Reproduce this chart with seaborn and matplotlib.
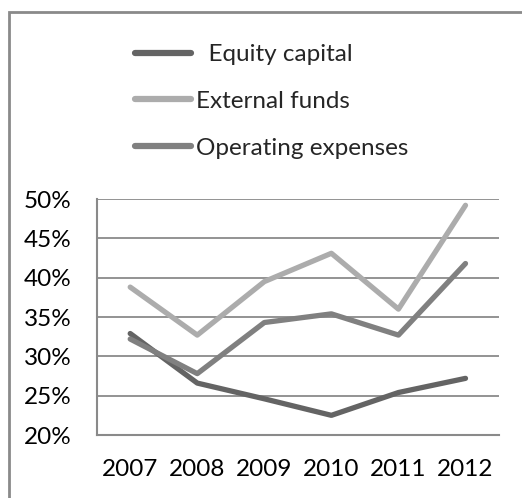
import matplotlib
matplotlib.use("Agg")
import matplotlib.pyplot as plt
import seaborn as sns
import pandas as pd
from matplotlib.patches import Rectangle
from matplotlib.ticker import FuncFormatter

years = ["2007", "2008", "2009", "2010", "2011", "2012"]
equity_capital = [32.9, 26.6, 24.6, 22.5, 25.4, 27.2]
external_funds = [38.8, 32.7, 39.5, 43.1, 36.0, 49.2]
operating_expenses = [32.2, 27.8, 34.3, 35.4, 32.7, 41.8]
series_names = ["  Equity capital", "External funds", "Operating expenses"]
colors = ["#646464", "#acacac", "#808080"]
y_ticks = [20, 25, 30, 35, 40, 45, 50]

rows = []
for name, vals in zip(series_names, [equity_capital, external_funds, operating_expenses]):
    for yr, v in zip(years, vals):
        rows.append({"year": yr, "value": v, "series": name})
df = pd.DataFrame(rows)

sns.set_style("white")
plt.rcParams["font.family"] = ["Lato", "DejaVu Sans"]

FS = 17.5
fig = plt.figure(figsize=(5.22, 4.98), dpi=100)
ax = fig.add_axes([0.1852, 0.1265, 0.956 - 0.1852, 0.6004 - 0.1265])

sns.lineplot(data=df, x="year", y="value", hue="series", palette=colors,
             linewidth=3.8, ax=ax, sort=False, legend=True)

ax.set_xlim(-0.5, 5.5)
ax.set_ylim(20, 50)
ax.set_yticks(y_ticks)
ax.yaxis.set_major_formatter(FuncFormatter(lambda v, p: f"{int(v)}%"))
ax.grid(axis="y", color="#8a8a8a", linewidth=1.3)
ax.set_axisbelow(True)
ax.set_xlabel("")
ax.set_ylabel("")
for s in ["top", "right"]:
    ax.spines[s].set_visible(False)
for s in ["left", "bottom"]:
    ax.spines[s].set_color("#8a8a8a")
    ax.spines[s].set_linewidth(1.5)
ax.tick_params(axis="both", length=0, labelsize=FS, colors="black")
ax.tick_params(axis="y", pad=18)
ax.tick_params(axis="x", pad=17)

handles, labels = ax.get_legend_handles_labels()
leg = ax.legend(handles, labels, loc="upper left", bbox_to_anchor=(135 / 522, 1 - 44 / 498),
                bbox_transform=fig.transFigure, frameon=False, fontsize=FS,
                handlelength=2.3, handletextpad=0.2, labelspacing=1.06, borderpad=0,
                borderaxespad=0)
for ln in leg.get_lines():
    ln.set_linewidth(4.5)

fig.patches.append(Rectangle((9 / 522, -0.1), 1.2, 1 - 12 / 498 + 0.1, transform=fig.transFigure,
                             fill=False, edgecolor="#8a8a8a", linewidth=2, figure=fig))

fig.savefig("out.png", dpi=100)
